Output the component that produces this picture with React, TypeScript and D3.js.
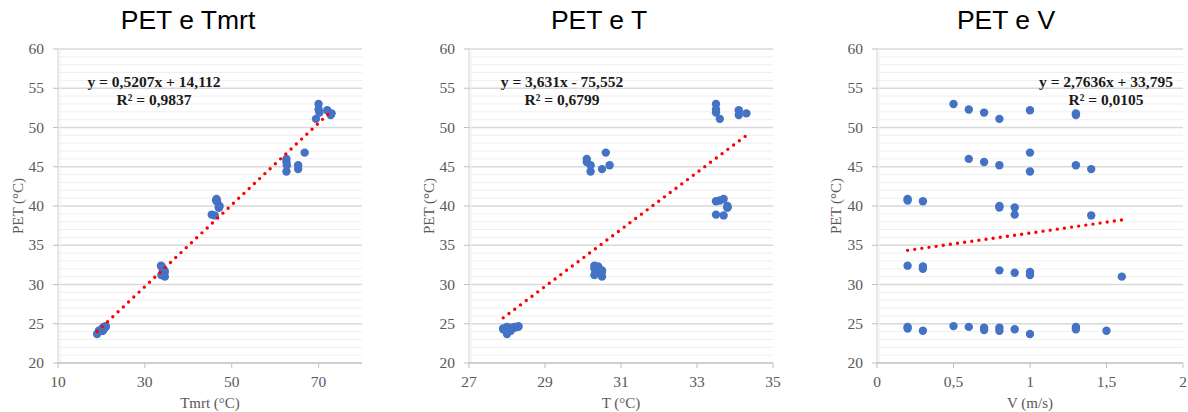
import React from 'react';
import * as d3 from 'd3';

// one entry per measurement
const pet = [
  53.0, 52.3, 51.9, 51.1, 52.2, 51.8, 51.6,
  46.0, 45.6, 45.2, 46.8, 44.4, 45.2, 44.7,
  40.9, 40.7, 40.6, 40.0, 39.8, 39.8, 38.9, 38.8,
  32.4, 32.3, 32.0, 31.8, 31.5, 31.6, 31.2, 31.0,
  24.6, 24.4, 24.1, 24.7, 24.6, 24.5, 24.2, 24.5, 24.1, 24.3, 23.7, 24.6, 24.3, 24.1,
];
const tmrt = [
  70.0, 70.0, 70.2, 69.4, 72.0, 73.0, 72.8,
  62.6, 62.6, 62.7, 66.8, 62.6, 65.3, 65.3,
  46.5, 46.4, 46.6, 47.2, 47.0, 47.1, 45.4, 46.1,
  33.7, 33.9, 34.1, 34.5, 34.3, 34.6, 33.8, 34.6,
  20.5, 20.2, 19.4, 21.0, 20.8, 20.6, 20.0, 20.7, 20.3, 20.4, 19.0, 21.0, 20.5, 20.2,
];
const tAir = [
  33.5, 33.5, 33.5, 33.6, 34.1, 34.3, 34.1,
  30.1, 30.1, 30.2, 30.6, 30.2, 30.7, 30.5,
  33.7, 33.6, 33.5, 33.8, 33.8, 33.8, 33.5, 33.7,
  30.3, 30.4, 30.3, 30.5, 30.4, 30.5, 30.3, 30.5,
  28.0, 27.9, 28.0, 28.3, 28.2, 28.1, 28.0, 28.2, 28.1, 28.0, 28.0, 28.3, 27.9, 28.0,
];
const wind = [
  0.5, 0.6, 0.7, 0.8, 1.0, 1.3, 1.3,
  0.6, 0.7, 0.8, 1.0, 1.0, 1.3, 1.4,
  0.2, 0.2, 0.3, 0.8, 0.8, 0.9, 0.9, 1.4,
  0.2, 0.3, 0.3, 0.8, 0.9, 1.0, 1.0, 1.6,
  0.2, 0.2, 0.3, 0.5, 0.6, 0.7, 0.7, 0.8, 0.8, 0.9, 1.0, 1.3, 1.3, 1.5,
];

const titles = ['PET e Tmrt', 'PET e T', 'PET e V'];
const xTitles = ['Tmrt (°C)', 'T (°C)', 'V (m/s)'];
const xDomains = [[10, 80], [27, 35], [0, 2]];
const xTickValues = [[10, 30, 50, 70], [27, 29, 31, 33, 35], [0, 0.5, 1, 1.5, 2]];
const slopes = [0.5207, 3.631, 2.7636];
const intercepts = [14.112, -75.552, 33.795];
const equations = ['y = 0,5207x + 14,112', 'y = 3,631x - 75,552', 'y = 2,7636x + 33,795'];
const r2Labels = ['R² = 0,9837', 'R² = 0,6799', 'R² = 0,0105'];
const yTicks = [20, 25, 30, 35, 40, 45, 50, 55, 60];

const xSeries = [tmrt, tAir, wind];

const layout = [
  { left: 58, right: 362, titleX: 188, yLabelX: 18, eqX: 154 },
  { left: 469, right: 773, titleX: 599, yLabelX: 429, eqX: 562 },
  { left: 877, right: 1183, titleX: 1006, yLabelX: 836, eqX: 1106 },
];
const top = 49;
const bottom = 363;

const serif = '"Liberation Serif", "Times New Roman", serif';
const fmt = (v: number) => String(v).replace('.', ',');

function Panel({ i }: { i: number }) {
  const L = layout[i];
  const x = d3.scaleLinear().domain(xDomains[i]).range([L.left, L.right]);
  const y = d3.scaleLinear().domain([20, 60]).range([bottom, top]);
  const xs = xSeries[i];
  const [x0, x1] = d3.extent(xs) as [number, number];
  const line = d3.line<number>()
    .x(d => x(d))
    .y(d => y(slopes[i] * d + intercepts[i]));
  const minor = d3.range(21, 60).filter(v => v % 5 !== 0);

  return (
    <g>
      <text x={L.titleX} y={29} textAnchor="middle" fontFamily='"Liberation Sans", Arial, sans-serif'
        fontSize={26.5} fill="#000">{titles[i]}</text>

      {minor.map(v => (
        <line key={'m' + v} x1={L.left} x2={L.right} y1={y(v)} y2={y(v)} stroke="#efefef" strokeWidth={1} />
      ))}
      {yTicks.slice(1).map(v => (
        <line key={'g' + v} x1={L.left} x2={L.right} y1={y(v)} y2={y(v)} stroke="#d9d9d9" strokeWidth={1.3} />
      ))}
      <line x1={L.left + 2} x2={L.left + 2} y1={top} y2={bottom} stroke="#f0f0f0" />
      <line x1={L.left} x2={L.left} y1={top} y2={bottom} stroke="#d0d0d0" />
      <line x1={L.left} x2={L.right} y1={bottom} y2={bottom} stroke="#bfbfbf" strokeWidth={1.3} />

      {yTicks.map(v => (
        <g key={'yt' + v}>
          <line x1={L.left - 5} x2={L.left} y1={y(v)} y2={y(v)} stroke="#bfbfbf" />
          <text x={L.left - 14} y={y(v) + 5} textAnchor="end" fontFamily={serif} fontSize={15.5} fill="#595959">{v}</text>
        </g>
      ))}
      {xTickValues[i].map(v => (
        <g key={'xt' + v}>
          <line x1={x(v)} x2={x(v)} y1={bottom} y2={bottom + 5} stroke="#bfbfbf" />
          <text x={x(v)} y={387} textAnchor="middle" fontFamily={serif} fontSize={15.5} fill="#595959">{fmt(v)}</text>
        </g>
      ))}

      <text x={(L.left + L.right) / 2} y={408} textAnchor="middle" fontFamily={serif} fontSize={15} fill="#595959">{xTitles[i]}</text>
      <text transform={`translate(${L.yLabelX},${(top + bottom) / 2}) rotate(-90)`} y={5} textAnchor="middle"
        fontFamily={serif} fontSize={15} fill="#595959">PET (°C)</text>

      {xs.map((v, k) => (
        <circle key={'p' + k} cx={x(v)} cy={y(pet[k])} r={4.2} fill="#4472c4" />
      ))}

      <path d={line([x0, x1]) || ''} fill="none" stroke="#ff0000" strokeWidth={3.4}
        strokeLinecap="round" strokeDasharray="0 7.2" />

      <text x={L.eqX} y={87} textAnchor="middle" fontFamily={serif} fontWeight="bold" fontSize={15.5} fill="#1a1a1a">{equations[i]}</text>
      <text x={L.eqX} y={105} textAnchor="middle" fontFamily={serif} fontWeight="bold" fontSize={15.5} fill="#1a1a1a">{r2Labels[i]}</text>
    </g>
  );
}

export default function App() {
  return (
    <svg width={1188} height={412} style={{ position: 'absolute', left: 0, top: 0, background: '#fff' }}>
      <rect width={1188} height={412} fill="#fff" />
      {[0, 1, 2].map(i => <Panel key={i} i={i} />)}
    </svg>
  );
}
